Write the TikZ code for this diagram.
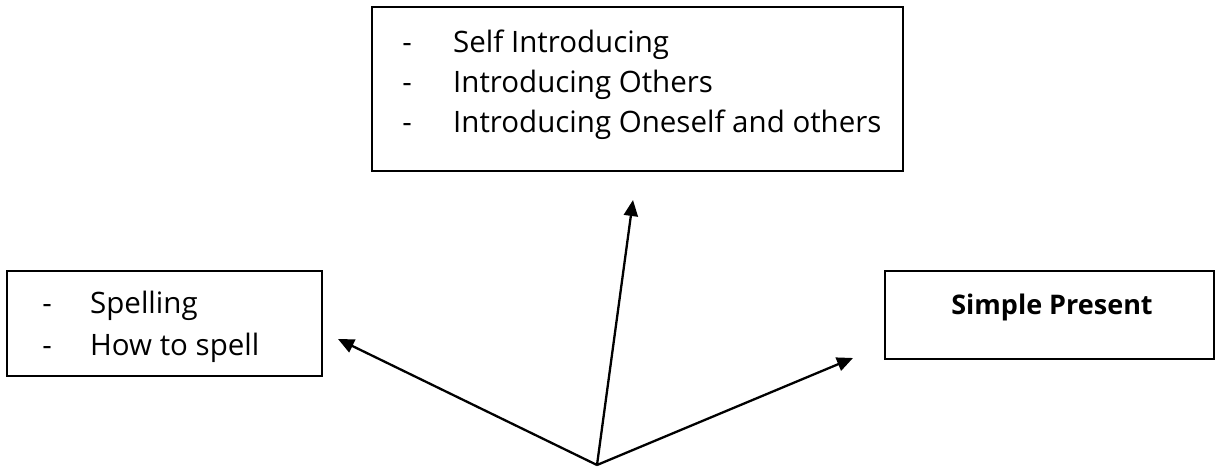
\documentclass[tikz,border=0pt]{standalone}
\usepackage{fontspec}
\setmainfont{Open Sans}
\usetikzlibrary{arrows.meta}
\begin{document}
\begin{tikzpicture}[x=1pt,y=-1pt,
  box/.style={draw=black,line width=2pt,inner sep=0pt,outer sep=0pt},
  txt/.style={anchor=base west,inner sep=0pt,font=\fontsize{29.5}{35}\selectfont},
  dsh/.style={anchor=base,inner sep=0pt,font=\fontsize{29.5}{35}\selectfont},
  arr/.style={line width=2.3pt,-{Triangle[length=16pt,width=14pt]}}]
\useasboundingbox (0,0) rectangle (1215,466);
% boxes
\node[box,minimum width=531pt,minimum height=164pt] (top) at (637.5,89) {};
\node[box,minimum width=315pt,minimum height=105pt] (left) at (164.5,323.5) {};
\node[box,minimum width=329pt,minimum height=88pt] (right) at (1049.5,315) {};
% top box text
\node[dsh] (d1) at (407,52) {-};
\node[txt] (t1) at (453,52) {Self Introducing};
\node[dsh] (d2) at (407,92) {-};
\node[txt] (t2) at (453,92) {Introducing Others};
\node[dsh] (d3) at (407,132) {-};
\node[txt] (t3) at (453,132) {Introducing Oneself and others};
% left box text
\node[dsh] (d4) at (47,313) {-};
\node[txt] (t4) at (90,313) {Spelling};
\node[dsh] (d5) at (47,355) {-};
\node[txt] (t5) at (90,355) {How to spell};
% right box text
\node[anchor=base,inner sep=0pt,font=\fontsize{27}{32}\selectfont\bfseries] (t6) at (1052,314) {Simple Present};
% arrows
\coordinate (o) at (597,465);
\coordinate (tipT) at (633,200);
\coordinate (tipL) at (338,339);
\coordinate (tipR) at (853,358);
\draw[arr] (o) -- (tipT);
\draw[arr] (o) -- (tipL);
\draw[arr] (o) -- (tipR);
\end{tikzpicture}
\end{document}
